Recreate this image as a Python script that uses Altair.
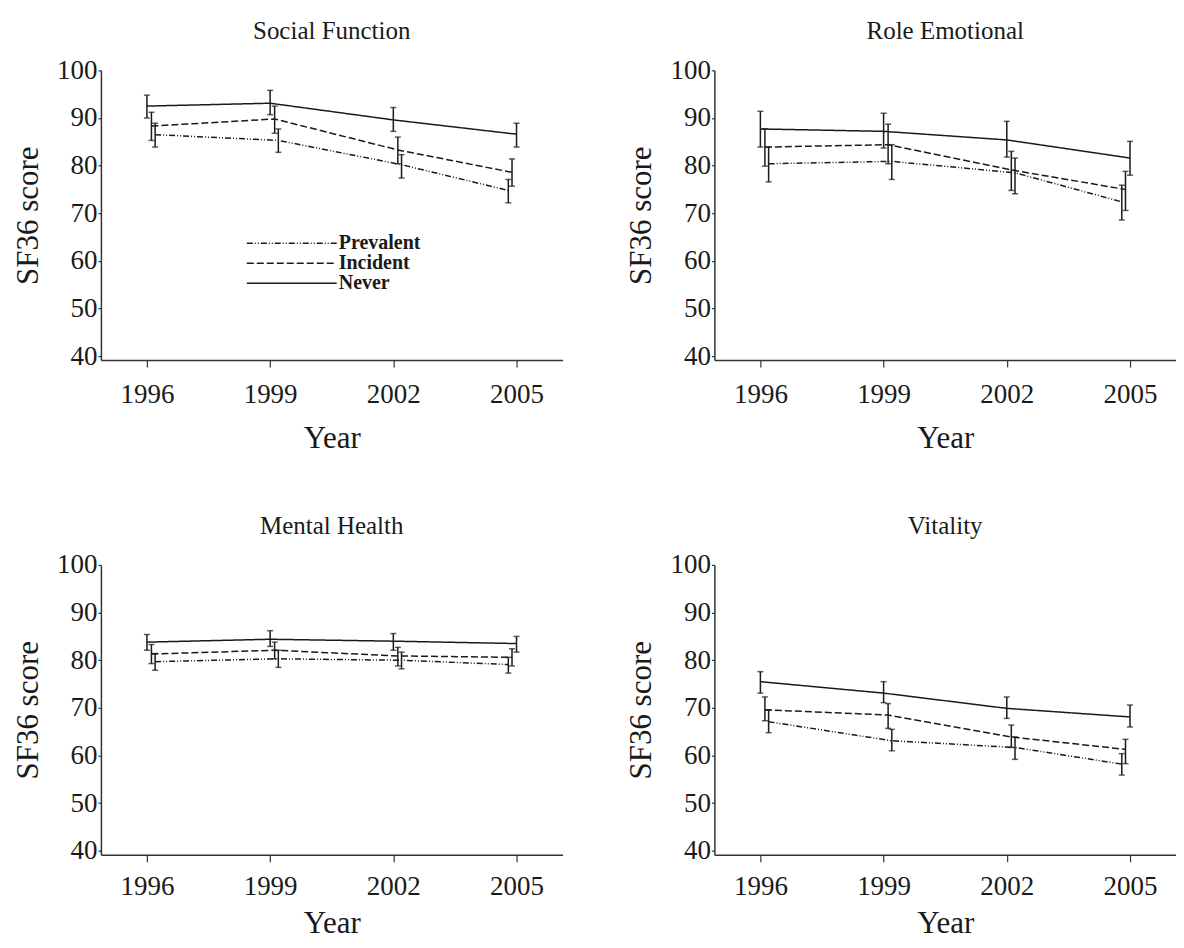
import altair as alt
import pandas as pd

years = [1996, 1999, 2002, 2005]
groups = ["Prevalent", "Incident", "Never"]
panels = ["Social Function", "Role Emotional", "Mental Health", "Vitality"]

# Social Function
sf_never = [92.5, 93.1, 89.6, 86.6]
sf_never_lo = [90.0, 90.7, 87.2, 83.9]
sf_never_hi = [94.8, 95.8, 92.2, 88.9]
sf_incident = [88.3, 89.8, 83.3, 78.6]
sf_incident_lo = [85.3, 86.8, 80.4, 75.7]
sf_incident_hi = [91.2, 92.5, 86.0, 81.4]
sf_prevalent = [86.5, 85.3, 80.2, 74.8]
sf_prevalent_lo = [83.9, 82.8, 77.4, 72.2]
sf_prevalent_hi = [88.9, 87.7, 82.3, 77.1]

# Role Emotional
re_never = [87.7, 87.2, 85.4, 81.6]
re_never_lo = [83.9, 83.7, 81.8, 78.0]
re_never_hi = [91.4, 91.0, 89.3, 85.1]
re_incident = [83.9, 84.4, 79.1, 75.0]
re_incident_lo = [79.9, 80.4, 74.8, 70.6]
re_incident_hi = [87.7, 88.7, 83.0, 78.8]
re_prevalent = [80.4, 80.9, 78.5, 72.4]
re_prevalent_lo = [76.6, 77.1, 74.1, 68.6]
re_prevalent_hi = [83.9, 84.4, 81.6, 75.9]

# Mental Health
mh_never = [83.8, 84.4, 84.0, 83.5]
mh_never_lo = [82.1, 82.9, 82.1, 81.7]
mh_never_hi = [85.4, 86.2, 85.6, 85.0]
mh_incident = [81.3, 82.1, 80.9, 80.6]
mh_incident_lo = [79.3, 80.3, 78.8, 78.8]
mh_incident_hi = [83.3, 83.8, 82.7, 82.4]
mh_prevalent = [79.7, 80.3, 80.0, 79.1]
mh_prevalent_lo = [77.9, 78.5, 78.2, 77.3]
mh_prevalent_hi = [81.4, 82.1, 81.7, 80.6]

# Vitality
vt_never = [75.5, 73.1, 69.9, 68.1]
vt_never_lo = [73.1, 71.1, 67.8, 66.0]
vt_never_hi = [77.6, 75.5, 72.3, 70.6]
vt_incident = [69.6, 68.5, 63.9, 61.3]
vt_incident_lo = [67.3, 65.7, 61.7, 58.3]
vt_incident_hi = [72.3, 70.9, 66.4, 63.4]
vt_prevalent = [67.1, 63.1, 61.7, 58.2]
vt_prevalent_lo = [64.8, 61.0, 59.2, 55.9]
vt_prevalent_hi = [69.5, 65.5, 63.9, 60.4]

# small horizontal dodge of each group (years)
dodge = {"Never": 0.0, "Incident": 0.11, "Prevalent": 0.2}

series = {
    "Social Function": {
        "Never": (sf_never, sf_never_lo, sf_never_hi),
        "Incident": (sf_incident, sf_incident_lo, sf_incident_hi),
        "Prevalent": (sf_prevalent, sf_prevalent_lo, sf_prevalent_hi),
    },
    "Role Emotional": {
        "Never": (re_never, re_never_lo, re_never_hi),
        "Incident": (re_incident, re_incident_lo, re_incident_hi),
        "Prevalent": (re_prevalent, re_prevalent_lo, re_prevalent_hi),
    },
    "Mental Health": {
        "Never": (mh_never, mh_never_lo, mh_never_hi),
        "Incident": (mh_incident, mh_incident_lo, mh_incident_hi),
        "Prevalent": (mh_prevalent, mh_prevalent_lo, mh_prevalent_hi),
    },
    "Vitality": {
        "Never": (vt_never, vt_never_lo, vt_never_hi),
        "Incident": (vt_incident, vt_incident_lo, vt_incident_hi),
        "Prevalent": (vt_prevalent, vt_prevalent_lo, vt_prevalent_hi),
    },
}

FONT = "Liberation Serif"
INK = "#1a1a1a"
W, H = 462, 290


def make_df(panel):
    rows = []
    for g in groups:
        m, lo, hi = series[panel][g]
        for i, y in enumerate(years):
            rows.append({"year": y, "group": g, "mean": m[i], "lo": lo[i], "hi": hi[i],
                         "shift": dodge[g]})
    return pd.DataFrame(rows)


def panel_chart(panel, show_legend, label_pad, xtitle_pad):
    df = make_df(panel)
    base = alt.Chart(df).transform_calculate(
        xpos="datum.year + (datum.year == 2005 ? -1 : 1) * datum.shift"
    )
    xenc = alt.X("xpos:Q",
                 scale=alt.Scale(domain=[1994.88, 2006.12], nice=False, zero=False),
                 axis=alt.Axis(values=years, format="d", title="Year", grid=False,
                               tickSize=7, labelPadding=label_pad, titlePadding=xtitle_pad))
    yenc = alt.Y("mean:Q",
                 scale=alt.Scale(domain=[39.2, 100], nice=False, zero=False),
                 axis=alt.Axis(values=[40, 50, 60, 70, 80, 90, 100], title="SF36 score",
                               grid=False, tickSize=3, labelPadding=1, titlePadding=12))
    if show_legend:
        legend = alt.Legend(orient="none", legendX=217, legendY=163, title=None,
                            symbolType="M-9,0L1,0", symbolSize=324,
                            symbolStrokeWidth=1.5, symbolStrokeColor=INK,
                            symbolFillColor="transparent",
                            labelFont=FONT, labelFontSize=20, labelFontWeight="bold",
                            labelColor=INK, labelOffset=1, rowPadding=0)
    else:
        legend = None
    dash = alt.StrokeDash("group:N",
                          scale=alt.Scale(domain=groups,
                                          range=[[6, 2, 1, 2, 1, 2], [7, 3], [1, 0]]),
                          legend=legend)
    lines = base.mark_line(color=INK, strokeWidth=1.5).encode(
        x=xenc, y=yenc, strokeDash=dash, detail="group:N"
    )
    bars = base.mark_errorbar(ticks=alt.MarkConfig(size=6), thickness=1.5, color=INK).encode(
        x="xpos:Q", y=alt.Y("lo:Q", title="SF36 score"), y2="hi:Q", detail="group:N"
    )
    return alt.layer(lines, bars).properties(
        width=W, height=H,
        title=alt.TitleParams(panel, font=FONT, fontSize=25, fontWeight="normal",
                              color=INK, offset=12, anchor="middle")
    ).resolve_legend(strokeDash="independent")


p = [panel_chart(name, i == 0, 14 if i < 2 else 12, 16 if i < 2 else 9)
     for i, name in enumerate(panels)]

chart = alt.vconcat(
    alt.hconcat(p[0], p[1], spacing=63),
    alt.hconcat(p[2], p[3], spacing=63),
    spacing=61,
).resolve_scale(strokeDash="independent").resolve_legend(
    strokeDash="independent"
).properties(
    background="white",
    padding={"left": 4, "top": 11, "right": 0, "bottom": 0},
).configure_view(
    stroke=None
).configure_axis(
    labelFont=FONT, titleFont=FONT, labelFontSize=27, titleFontSize=31,
    titleFontWeight="normal", labelColor=INK, titleColor=INK,
    domainColor="#333333", tickColor="#333333", domainWidth=1.5, tickWidth=1.2
)

chart.save("out.html", embed_options={"renderer": "svg", "actions": False})
